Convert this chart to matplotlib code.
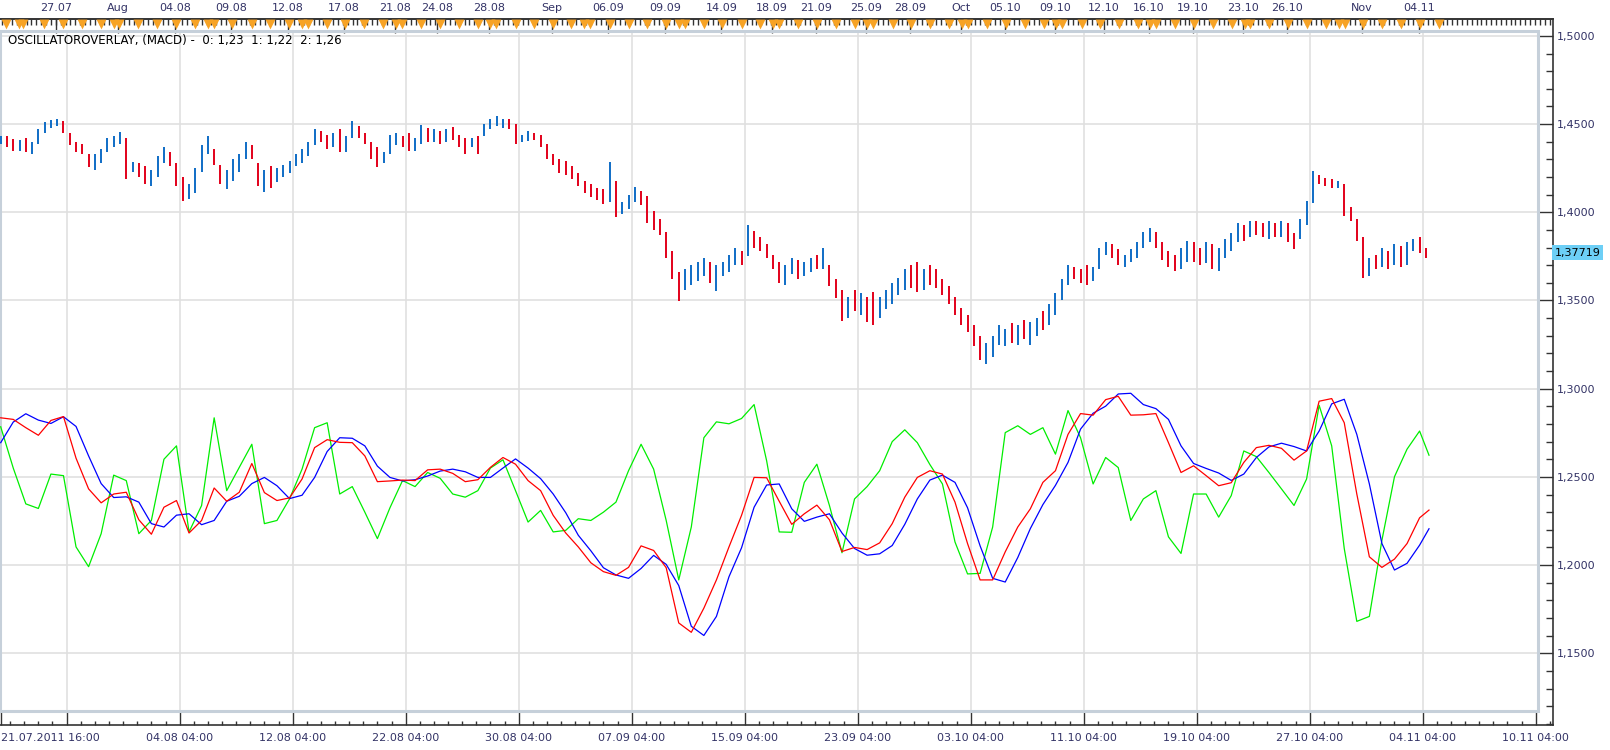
import numpy as np
import matplotlib
matplotlib.use('Agg')
import matplotlib.pyplot as plt
from matplotlib.patches import Rectangle
from matplotlib.ticker import FixedLocator

# price bars, one every 8 hours; x is counted in 4h bars from 21.07.2011 16:00
bar_hi = [1.4434, 1.4430, 1.4415, 1.4410, 1.4420, 1.4400, 1.4470, 1.4510, 1.4525, 1.4528,
          1.4520, 1.4450, 1.4400, 1.4390, 1.4330, 1.4330, 1.4358, 1.4420, 1.4430, 1.4453,
          1.4420, 1.4283, 1.4280, 1.4260, 1.4240, 1.4320, 1.4368, 1.4340, 1.4280, 1.4200,
          1.4160, 1.4250, 1.4380, 1.4434, 1.4360, 1.4270, 1.4240, 1.4300, 1.4330, 1.4396,
          1.4380, 1.4280, 1.4240, 1.4260, 1.4250, 1.4270, 1.4290, 1.4330, 1.4360, 1.4400,
          1.4472, 1.4460, 1.4440, 1.4450, 1.4472, 1.4430, 1.4515, 1.4490, 1.4450, 1.4400,
          1.4368, 1.4340, 1.4440, 1.4450, 1.4430, 1.4450, 1.4420, 1.4495, 1.4480, 1.4470,
          1.4460, 1.4470, 1.4481, 1.4440, 1.4420, 1.4420, 1.4430, 1.4500, 1.4530, 1.4547,
          1.4530, 1.4530, 1.4500, 1.4440, 1.4462, 1.4450, 1.4440, 1.4390, 1.4330, 1.4300,
          1.4290, 1.4260, 1.4220, 1.4180, 1.4160, 1.4140, 1.4130, 1.4283, 1.4180, 1.4060,
          1.4100, 1.4141, 1.4120, 1.4090, 1.4009, 1.3960, 1.3890, 1.3780, 1.3659, 1.3680,
          1.3700, 1.3716, 1.3741, 1.3720, 1.3700, 1.3720, 1.3760, 1.3798, 1.3780, 1.3930,
          1.3892, 1.3860, 1.3820, 1.3760, 1.3720, 1.3700, 1.3741, 1.3730, 1.3720, 1.3740,
          1.3760, 1.3798, 1.3700, 1.3620, 1.3560, 1.3520, 1.3560, 1.3540, 1.3520, 1.3550,
          1.3520, 1.3560, 1.3600, 1.3630, 1.3680, 1.3700, 1.3720, 1.3680, 1.3700, 1.3680,
          1.3620, 1.3580, 1.3520, 1.3460, 1.3420, 1.3360, 1.3300, 1.3260, 1.3300, 1.3360,
          1.3340, 1.3370, 1.3360, 1.3390, 1.3380, 1.3400, 1.3440, 1.3480, 1.3540, 1.3620,
          1.3703, 1.3690, 1.3680, 1.3700, 1.3690, 1.3800, 1.3830, 1.3820, 1.3790, 1.3760,
          1.3790, 1.3830, 1.3890, 1.3911, 1.3890, 1.3830, 1.3780, 1.3760, 1.3800, 1.3840,
          1.3830, 1.3800, 1.3830, 1.3820, 1.3800, 1.3850, 1.3880, 1.3940, 1.3930, 1.3949,
          1.3950, 1.3940, 1.3950, 1.3940, 1.3950, 1.3940, 1.3880, 1.3960, 1.4062, 1.4236,
          1.4210, 1.4195, 1.4190, 1.4180, 1.4160, 1.4030, 1.3960, 1.3860, 1.3740, 1.3760,
          1.3798, 1.3780, 1.3820, 1.3810, 1.3830, 1.3850, 1.3860, 1.3800]
bar_lo = [1.4390, 1.4370, 1.4345, 1.4350, 1.4340, 1.4330, 1.4390, 1.4450, 1.4480, 1.4490,
          1.4450, 1.4380, 1.4340, 1.4330, 1.4254, 1.4240, 1.4280, 1.4340, 1.4370, 1.4390,
          1.4188, 1.4226, 1.4200, 1.4160, 1.4150, 1.4200, 1.4280, 1.4260, 1.4150, 1.4065,
          1.4075, 1.4110, 1.4230, 1.4330, 1.4270, 1.4160, 1.4131, 1.4180, 1.4230, 1.4300,
          1.4300, 1.4150, 1.4113, 1.4140, 1.4170, 1.4200, 1.4220, 1.4260, 1.4280, 1.4320,
          1.4380, 1.4400, 1.4358, 1.4370, 1.4340, 1.4340, 1.4420, 1.4420, 1.4390, 1.4300,
          1.4254, 1.4280, 1.4330, 1.4380, 1.4370, 1.4349, 1.4350, 1.4390, 1.4400, 1.4400,
          1.4387, 1.4400, 1.4410, 1.4370, 1.4330, 1.4370, 1.4330, 1.4430, 1.4470, 1.4490,
          1.4480, 1.4470, 1.4387, 1.4400, 1.4406, 1.4410, 1.4370, 1.4300, 1.4270, 1.4220,
          1.4210, 1.4188, 1.4150, 1.4110, 1.4084, 1.4070, 1.4046, 1.4060, 1.3971, 1.3990,
          1.4020, 1.4060, 1.4040, 1.3942, 1.3900, 1.3870, 1.3740, 1.3621, 1.3498, 1.3560,
          1.3590, 1.3610, 1.3640, 1.3600, 1.3552, 1.3640, 1.3660, 1.3700, 1.3700, 1.3750,
          1.3800, 1.3780, 1.3740, 1.3680, 1.3600, 1.3590, 1.3650, 1.3620, 1.3640, 1.3660,
          1.3680, 1.3680, 1.3580, 1.3514, 1.3382, 1.3400, 1.3440, 1.3420, 1.3380, 1.3363,
          1.3400, 1.3450, 1.3480, 1.3530, 1.3560, 1.3570, 1.3550, 1.3560, 1.3590, 1.3570,
          1.3530, 1.3480, 1.3420, 1.3360, 1.3320, 1.3240, 1.3160, 1.3140, 1.3180, 1.3250,
          1.3240, 1.3260, 1.3250, 1.3280, 1.3250, 1.3300, 1.3330, 1.3360, 1.3420, 1.3500,
          1.3590, 1.3620, 1.3600, 1.3590, 1.3610, 1.3680, 1.3760, 1.3740, 1.3700, 1.3690,
          1.3720, 1.3740, 1.3800, 1.3830, 1.3800, 1.3730, 1.3690, 1.3665, 1.3680, 1.3720,
          1.3720, 1.3700, 1.3710, 1.3680, 1.3665, 1.3740, 1.3780, 1.3830, 1.3840, 1.3860,
          1.3870, 1.3860, 1.3850, 1.3860, 1.3860, 1.3830, 1.3790, 1.3850, 1.3930, 1.4050,
          1.4160, 1.4150, 1.4140, 1.4138, 1.3977, 1.3949, 1.3836, 1.3628, 1.3640, 1.3680,
          1.3690, 1.3680, 1.3700, 1.3690, 1.3700, 1.3780, 1.3770, 1.3740]
bar_close = [1.4420, 1.4400, 1.4360, 1.4400, 1.4370, 1.4380, 1.4460, 1.4500, 1.4510, 1.4520,
             1.4460, 1.4390, 1.4370, 1.4350, 1.4270, 1.4300, 1.4340, 1.4400, 1.4410, 1.4420,
             1.4220, 1.4260, 1.4230, 1.4190, 1.4200, 1.4300, 1.4340, 1.4290, 1.4170, 1.4100,
             1.4120, 1.4230, 1.4350, 1.4380, 1.4280, 1.4180, 1.4200, 1.4260, 1.4300, 1.4370,
             1.4320, 1.4170, 1.4200, 1.4180, 1.4220, 1.4250, 1.4260, 1.4310, 1.4340, 1.4380,
             1.4450, 1.4420, 1.4380, 1.4400, 1.4370, 1.4410, 1.4480, 1.4440, 1.4420, 1.4320,
             1.4300, 1.4320, 1.4410, 1.4420, 1.4400, 1.4380, 1.4390, 1.4470, 1.4430, 1.4440,
             1.4410, 1.4450, 1.4420, 1.4400, 1.4350, 1.4410, 1.4400, 1.4490, 1.4500, 1.4510,
             1.4520, 1.4490, 1.4420, 1.4420, 1.4440, 1.4430, 1.4380, 1.4320, 1.4290, 1.4260,
             1.4240, 1.4200, 1.4160, 1.4130, 1.4100, 1.4090, 1.4060, 1.4150, 1.4000, 1.4040,
             1.4080, 1.4100, 1.4080, 1.3960, 1.3920, 1.3900, 1.3760, 1.3650, 1.3560, 1.3640,
             1.3660, 1.3680, 1.3700, 1.3640, 1.3680, 1.3700, 1.3740, 1.3770, 1.3750, 1.3880,
             1.3840, 1.3810, 1.3760, 1.3700, 1.3640, 1.3680, 1.3720, 1.3660, 1.3700, 1.3720,
             1.3700, 1.3730, 1.3600, 1.3540, 1.3420, 1.3500, 1.3480, 1.3500, 1.3430, 1.3420,
             1.3480, 1.3510, 1.3560, 1.3580, 1.3640, 1.3600, 1.3580, 1.3660, 1.3620, 1.3600,
             1.3560, 1.3500, 1.3440, 1.3380, 1.3340, 1.3260, 1.3180, 1.3200, 1.3280, 1.3300,
             1.3320, 1.3300, 1.3340, 1.3310, 1.3360, 1.3380, 1.3360, 1.3460, 1.3520, 1.3600,
             1.3680, 1.3660, 1.3630, 1.3620, 1.3670, 1.3780, 1.3810, 1.3770, 1.3720, 1.3740,
             1.3770, 1.3810, 1.3860, 1.3880, 1.3820, 1.3760, 1.3720, 1.3700, 1.3760, 1.3800,
             1.3760, 1.3740, 1.3780, 1.3720, 1.3760, 1.3820, 1.3840, 1.3900, 1.3880, 1.3920,
             1.3900, 1.3880, 1.3910, 1.3890, 1.3920, 1.3860, 1.3840, 1.3940, 1.4040, 1.4200,
             1.4190, 1.4170, 1.4160, 1.4160, 1.4000, 1.3960, 1.3860, 1.3660, 1.3720, 1.3700,
             1.3760, 1.3700, 1.3800, 1.3720, 1.3810, 1.3840, 1.3800, 1.37719]

# MACD overlay lines, read every 4 bars plus the last bar
osc_red = [1.2835, 1.2826, 1.2779, 1.2736, 1.2820, 1.2842, 1.2606, 1.2432, 1.2353, 1.2403,
           1.2413, 1.2257, 1.2175, 1.2328, 1.2366, 1.2182, 1.2253, 1.2437, 1.2362, 1.2413,
           1.2576, 1.2411, 1.2366, 1.2381, 1.2488, 1.2666, 1.2711, 1.2696, 1.2694, 1.2619,
           1.2473, 1.2477, 1.2482, 1.2479, 1.2540, 1.2544, 1.2520, 1.2473, 1.2484, 1.2554,
           1.2610, 1.2572, 1.2479, 1.2422, 1.2282, 1.2182, 1.2103, 1.2013, 1.1963, 1.1942,
           1.1987, 1.2109, 1.2083, 1.1985, 1.1672, 1.1619, 1.1756, 1.1916,
           1.2103, 1.2282, 1.2497, 1.2495, 1.2362, 1.2231, 1.2291, 1.2340, 1.2257, 1.2077,
           1.2100, 1.2088, 1.2126, 1.2235, 1.2385, 1.2497, 1.2535, 1.2516, 1.2357, 1.2122,
           1.1916, 1.1916, 1.2075, 1.2216, 1.2319, 1.2469, 1.2535, 1.2741, 1.2859, 1.2850,
           1.2938, 1.2957, 1.2850, 1.2852, 1.2859, 1.2694, 1.2525, 1.2563, 1.2507, 1.2450,
           1.2467, 1.2582, 1.2666, 1.2679, 1.2662, 1.2595, 1.2647, 1.2929, 1.2944, 1.2807,
           1.2403, 1.2047, 1.1987, 1.2034, 1.2122, 1.2268, 1.2312]
osc_blue = [1.2694, 1.2811, 1.2858, 1.2822, 1.2803, 1.2841, 1.2786, 1.2619, 1.2462, 1.2383,
            1.2387, 1.2357, 1.2235, 1.2216, 1.2283, 1.2291, 1.2229, 1.2253, 1.2362, 1.2390,
            1.2462, 1.2497, 1.2450, 1.2377, 1.2396, 1.2497, 1.2644, 1.2722, 1.2719, 1.2676,
            1.2561, 1.2497, 1.2477, 1.2484, 1.2505, 1.2533, 1.2544, 1.2529, 1.2497, 1.2497,
            1.2550, 1.2602, 1.2550, 1.2490, 1.2403, 1.2297, 1.2169, 1.2081, 1.1985, 1.1944,
            1.1925, 1.1981, 1.2055, 1.2004, 1.1884, 1.1653, 1.1601, 1.1709,
            1.1934, 1.2098, 1.2328, 1.2454, 1.2460, 1.2319, 1.2248, 1.2272, 1.2291, 1.2182,
            1.2094, 1.2056, 1.2064, 1.2111, 1.2231, 1.2375, 1.2482, 1.2510, 1.2469, 1.2325,
            1.2109, 1.1925, 1.1904, 1.2043, 1.2207, 1.2343, 1.2452, 1.2582, 1.2771, 1.2861,
            1.2901, 1.2970, 1.2974, 1.2910, 1.2887, 1.2826, 1.2676, 1.2576, 1.2548, 1.2522,
            1.2480, 1.2516, 1.2610, 1.2670, 1.2691, 1.2672, 1.2647, 1.2760, 1.2914, 1.2940,
            1.2741, 1.2460, 1.2122, 1.1972, 1.2010, 1.2113, 1.2206]
osc_green = [1.2784, 1.2550, 1.2347, 1.2321, 1.2516, 1.2507, 1.2103, 1.1991, 1.2178, 1.2510,
             1.2479, 1.2178, 1.2253, 1.2600, 1.2676, 1.2188, 1.2338, 1.2835, 1.2422, 1.2554,
             1.2685, 1.2235, 1.2253, 1.2375, 1.2544, 1.2779, 1.2807, 1.2403, 1.2445, 1.2300,
             1.2150, 1.2325, 1.2479, 1.2445, 1.2525, 1.2492, 1.2403, 1.2385, 1.2422, 1.2550,
             1.2597, 1.2422, 1.2244, 1.2310, 1.2188, 1.2197, 1.2263, 1.2253, 1.2300, 1.2357,
             1.2535, 1.2685, 1.2544, 1.2253, 1.1916, 1.2216, 1.2722, 1.2812,
             1.2801, 1.2831, 1.2910, 1.2591, 1.2188, 1.2186, 1.2469, 1.2572, 1.2338, 1.2070,
             1.2375, 1.2445, 1.2535, 1.2700, 1.2767, 1.2694, 1.2570, 1.2460, 1.2131, 1.1950,
             1.1953, 1.2216, 1.2751, 1.2790, 1.2741, 1.2779, 1.2629, 1.2876, 1.2722, 1.2460,
             1.2610, 1.2553, 1.2253, 1.2375, 1.2422, 1.2160, 1.2066, 1.2403, 1.2403, 1.2272,
             1.2394, 1.2647, 1.2615, 1.2525, 1.2432, 1.2338, 1.2488, 1.2906, 1.2676, 1.2094,
             1.1681, 1.1709, 1.2141, 1.2501, 1.2657, 1.2760, 1.2623]

price_ticks = [1.15, 1.20, 1.25, 1.30, 1.35, 1.40, 1.45, 1.50]
price_labels = ['1,1500', '1,2000', '1,2500', '1,3000', '1,3500', '1,4000', '1,4500', '1,5000']

bottom_ticks = [0, 21, 57, 93, 129, 165, 201, 237, 273, 309, 345, 381, 417, 453, 489]
bottom_labels = ['21.07.2011 16:00', '', '04.08 04:00', '12.08 04:00', '22.08 04:00',
                 '30.08 04:00', '07.09 04:00', '15.09 04:00', '23.09 04:00', '03.10 04:00',
                 '11.10 04:00', '19.10 04:00', '27.10 04:00', '04.11 04:00', '10.11 04:00']

top_ticks = [17.6, 37.4, 55.5, 73.4, 91.5, 109.4, 125.6, 139, 155.6, 175.6, 193.5, 211.6,
             229.6, 245.7, 259.6, 275.7, 289.7, 305.9, 319.9, 335.9, 351.4, 365.8, 379.8,
             395.8, 409.8, 433.7, 451.8]
top_labels = ['27.07', 'Aug', '04.08', '09.08', '12.08', '17.08', '21.08', '24.08', '28.08',
              'Sep', '06.09', '09.09', '14.09', '18.09', '21.09', '25.09', '28.09', 'Oct',
              '05.10', '09.10', '12.10', '16.10', '19.10', '23.10', '26.10', 'Nov', '04.11']

# orange news markers on the top scale
events = [1.8, 5.8, 7.2, 13.8, 19.8, 25.9, 31.9, 36, 37.6, 43.6, 49.9, 55.9, 62, 66.1, 68,
          73.8, 79.9, 85.9, 91.9, 96.1, 98, 104, 109.8, 115.8, 121.9, 125.9, 127.9, 133.8,
          139.8, 145.9, 151.9, 155.9, 157.8, 164, 169.8, 176, 181.7, 185.9, 187.8, 194, 200,
          206, 211.8, 216, 217.9, 223.9, 229.9, 236, 242, 246.1, 248, 254.1, 260.1, 266.1,
          272.2, 276, 278, 284.3, 290.1, 296.1, 302.1, 306.2, 308.1, 314.2, 320.2, 326.2,
          332.2, 336.1, 338, 344.4, 350.3, 356.2, 362.2, 366.2, 368.1, 374.2, 380.1, 386.2,
          392.3, 396.3, 398, 404.1, 410, 416.2, 422.3, 426.2, 428.2, 434.1, 440, 446.2,
          452.1, 458.2]

txt = '#333366'
dark = '#333333'
plt.rcParams['font.family'] = ['DejaVu Sans']
fs = 8

fig = plt.figure(figsize=(16.1, 7.5), dpi=100)
ax = fig.add_axes([0, 25 / 750, 1553 / 1610, 706 / 750])
ax.set_xlim(-0.223, 494.5)
ax.set_ylim(1.10935, 1.50958)

# inner frame and grid
box_r, box_b, box_t = 489.7, 1.1173, 1.5025
ax.vlines(bottom_ticks[1:-1], box_b, box_t, colors='#e0e0e0', lw=1.2, zorder=1)
ax.hlines(price_ticks, -0.223, box_r, colors='#e0e0e0', lw=1.2, zorder=1)
ax.add_patch(Rectangle((-0.223, box_b), box_r + 0.223, box_t - box_b, fill=False,
                       edgecolor='#c6d0da', lw=2.2, zorder=2))

# price bars
bar_x = np.arange(len(bar_hi)) * 2
bar_col = ['#0f6cc6']
for k in range(1, len(bar_close)):
    bar_col.append('#0f6cc6' if bar_close[k] >= bar_close[k - 1] else '#e2001a')
ax.vlines(bar_x, bar_lo, bar_hi, colors=bar_col, lw=1.4, zorder=3)

# oscillator lines
osc_x = np.r_[np.arange(0, 453, 4), 455]
ax.plot(osc_x, osc_green, color='#00ee00', lw=0.9, zorder=4)
ax.plot(osc_x, osc_blue, color='#0000ff', lw=0.9, zorder=4)
ax.plot(osc_x, osc_red, color='#ff0000', lw=0.9, zorder=4)

# spines
ax.spines['left'].set_visible(False)
for s in ['top', 'right', 'bottom']:
    ax.spines[s].set_color(dark)
    ax.spines[s].set_linewidth(1.2)

# right price scale
ax.yaxis.tick_right()
ax.set_yticks(price_ticks)
ax.set_yticklabels(price_labels)
ax.yaxis.set_minor_locator(FixedLocator(np.arange(1.11, 1.505, 0.01)))
ax.tick_params(axis='y', which='major', direction='in', length=11, width=1, color=dark,
               pad=3, labelsize=fs, labelcolor=txt)
ax.tick_params(axis='y', which='minor', direction='in', length=5, width=1, color=dark)

# bottom time scale
ax.set_xticks(bottom_ticks)
ax.set_xticklabels(bottom_labels)
ax.xaxis.set_minor_locator(FixedLocator(np.arange(-15, 494, 4.5)))
ax.tick_params(axis='x', which='major', direction='in', length=10, width=1, color=dark,
               pad=6, labelsize=fs, labelcolor=txt)
ax.tick_params(axis='x', which='minor', direction='in', length=3, width=1, color=dark)
ax.get_xticklabels()[0].set_ha('left')

# top date scale
sec = ax.secondary_xaxis('top')
sec.set_xticks(top_ticks)
sec.set_xticklabels(top_labels)
sec.xaxis.set_minor_locator(FixedLocator(np.arange(0.5, 494, 1.55)))
sec.tick_params(which='major', direction='in', length=10, width=1, color=dark, pad=4,
                labelsize=fs, labelcolor=txt)
sec.tick_params(which='minor', direction='in', length=4.5, width=1, color=dark)
sec.spines['top'].set_color(dark)
sec.spines['top'].set_linewidth(1.2)

ax.scatter(events, [0.9930] * len(events), transform=ax.get_xaxis_transform(),
           marker='v', s=50, color='#f7a325', linewidths=0, clip_on=False, zorder=6)

# last price tag
ax.text(1.001, bar_close[-1], '1,37719', transform=ax.get_yaxis_transform(), ha='left',
        va='center', fontsize=fs, color='black',
        bbox=dict(boxstyle='square,pad=0.2', fc='#6dcff6', ec='none'))

ax.text(0.005, 0.970, 'OSCILLATOROVERLAY, (MACD) -  0: 1,23  1: 1,22  2: 1,26',
        transform=ax.transAxes, ha='left', va='center', fontsize=8.5, color='black')

fig.savefig('out.png', dpi=100, facecolor='white')
